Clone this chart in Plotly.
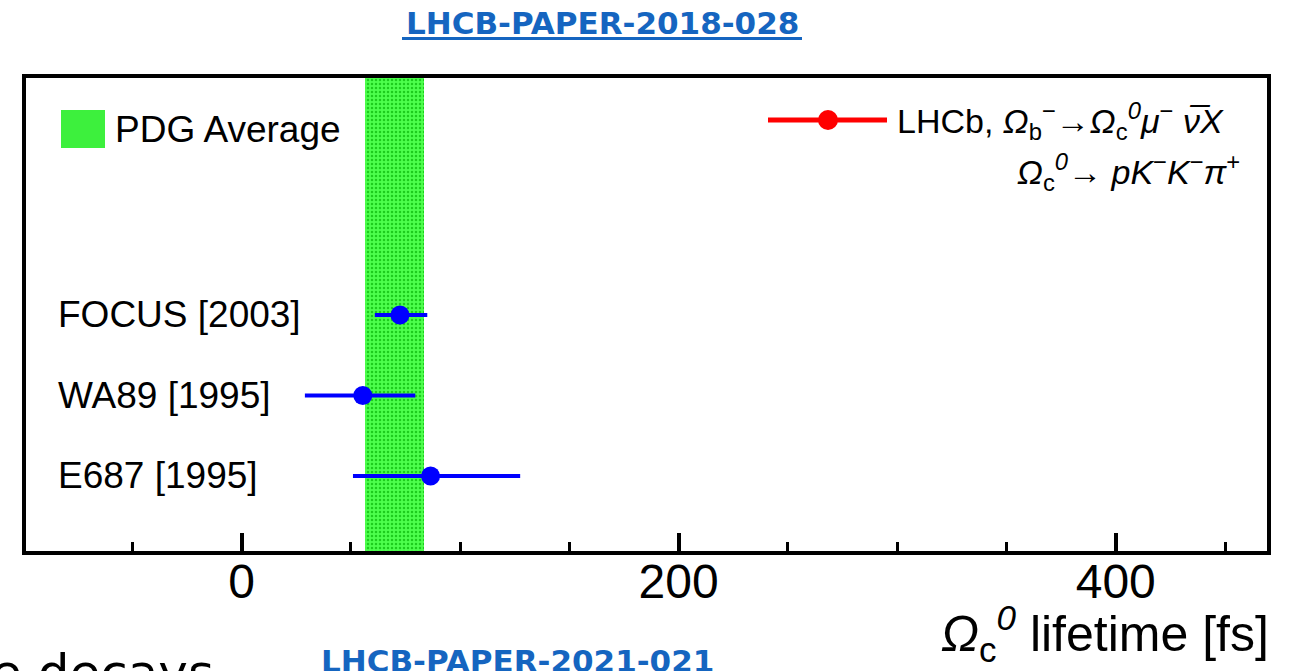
import plotly.graph_objects as go

# Omega_c^0 lifetime measurements [fs]
experiments = ["FOCUS [2003]", "WA89 [1995]", "E687 [1995]"]
lifetime = [72.5, 55.5, 86.5]
err_minus = [11.5, 26.5, 35.5]
err_plus = [12.5, 24.0, 41.0]

# PDG average band
pdg_mean = 69.8
pdg_err = 13.5

# axis
x_range = [-98.6, 469.2]
x_major = 200
x_minor = 50

FONT = "Liberation Sans, Arial, Helvetica, sans-serif"
LINK = "#1565c0"

W, H = 1297, 671
ML, MR, MT, MB = 26, 30, 78, 120
PW, PH = W - ML - MR, H - MT - MB


def px(x):
    return (x - ML) / PW


def py(y):
    return (H - MB - y) / PH


fig = go.Figure()

# PDG band spanning the full frame height (numeric axis 0..1, drawn first)
fig.add_trace(go.Bar(
    x=[pdg_mean], y=[1.0], base=[0.0], width=[2 * pdg_err],
    yaxis="y",
    marker=dict(
        color="#22dd22",
        line=dict(width=0),
        pattern=dict(shape=".", size=4, solidity=0.3,
                     fgcolor="#1ccc1c", bgcolor="#4dff4d", fillmode="replace"),
    ),
    hoverinfo="skip",
))

# measurements on a categorical overlay axis
fig.add_trace(go.Scatter(
    x=lifetime, y=experiments, mode="markers", yaxis="y2",
    marker=dict(color="#0000ff", size=19, line=dict(width=0)),
    error_x=dict(type="data", array=err_plus, arrayminus=err_minus,
                 color="#0000ff", thickness=4, width=0),
))

fig.update_layout(
    width=W, height=H,
    margin=dict(l=ML, r=MR, t=MT, b=MB, pad=0),
    paper_bgcolor="white", plot_bgcolor="white",
    showlegend=False,
    font=dict(family=FONT, color="black"),
    xaxis=dict(
        range=x_range, showgrid=False, zeroline=False,
        showline=True, linecolor="black", linewidth=4, mirror=True,
        ticks="inside", ticklen=18, tickwidth=4, tickcolor="black",
        tick0=0, dtick=x_major,
        minor=dict(ticks="inside", ticklen=9, tickwidth=3, tickcolor="black",
                   dtick=x_minor, tick0=0, showgrid=False),
        tickfont=dict(size=48, family=FONT, color="black"),
        ticklabelstandoff=-15,
    ),
    yaxis=dict(
        range=[0, 1], showgrid=False, zeroline=False,
        showline=True, linecolor="black", linewidth=4, mirror=True,
        ticks="", showticklabels=False,
    ),
    yaxis2=dict(
        overlaying="y", type="category", categoryorder="array",
        categoryarray=list(reversed(experiments)),
        range=[-0.932, 4.944], showgrid=False, zeroline=False,
        showline=False, ticks="", showticklabels=False,
    ),
    bargap=0,
)

shapes = [
    # legend: PDG average box
    dict(type="rect", xref="paper", yref="paper",
         x0=px(61), x1=px(105), y0=py(148), y1=py(110),
         fillcolor="#3df03d", line=dict(width=0)),
    # legend: LHCb line with marker
    dict(type="line", xref="paper", yref="paper",
         x0=px(768), x1=px(887), y0=py(120), y1=py(120),
         line=dict(color="#ff0000", width=5)),
    dict(type="circle", xref="paper", yref="paper",
         xsizemode="pixel", ysizemode="pixel",
         xanchor=px(828), yanchor=py(120), x0=-10, x1=10, y0=-10, y1=10,
         fillcolor="#ff0000", line=dict(width=0)),
    # underline of the paper reference
    dict(type="line", xref="paper", yref="paper",
         x0=px(402), x1=px(802), y0=py(38.5), y1=py(38.5),
         line=dict(color=LINK, width=3)),
]

annotations = [
    dict(text="PDG Average", x=px(113), y=py(129), xanchor="left", yanchor="middle",
         font=dict(size=37)),
    dict(text="LHCb, <i>Ω</i><sub>b</sub><sup>−</sup>→<i>Ω</i><sub>c</sub><sup><i>0</i></sup>"
              "<i>μ</i><sup>−</sup> <i>ν̅X</i>",
         x=px(1226), y=py(121), xanchor="right", yanchor="middle", font=dict(size=34)),
    dict(text="<i>Ω</i><sub>c</sub><sup><i>0</i></sup>→ <i>pK</i><sup>−</sup><i>K</i><sup>−</sup><i>π</i><sup>+</sup>",
         x=px(1242), y=py(172), xanchor="right", yanchor="middle", font=dict(size=34)),
    dict(text="<i>Ω</i><sub>c</sub><sup><i>0</i></sup> lifetime [fs]",
         x=px(1271), y=py(633), xanchor="right", yanchor="middle", font=dict(size=50)),
    dict(text="<b>LHCB-PAPER-2018-028</b>", x=px(602), y=py(23),
         xanchor="center", yanchor="middle",
         font=dict(size=31, family="DejaVu Sans", color=LINK)),
    dict(text="<b>LHCB-PAPER-2021-021</b>", x=px(517), y=py(661),
         xanchor="center", yanchor="middle",
         font=dict(size=31, family="DejaVu Sans", color=LINK)),
    dict(text="e decays", x=px(216), y=py(673), xanchor="right", yanchor="middle",
         font=dict(size=50, family="DejaVu Sans", color="black")),
]
# experiment labels next to their rows
for name in experiments:
    annotations.append(dict(text=name, x=px(56), y=name, yref="y2",
                            xanchor="left", yanchor="middle", font=dict(size=37)))
for a in annotations:
    a.setdefault("xref", "paper")
    a.setdefault("yref", "paper")
    a["showarrow"] = False

fig.update_layout(shapes=shapes, annotations=annotations)

fig.write_html("out.html")
